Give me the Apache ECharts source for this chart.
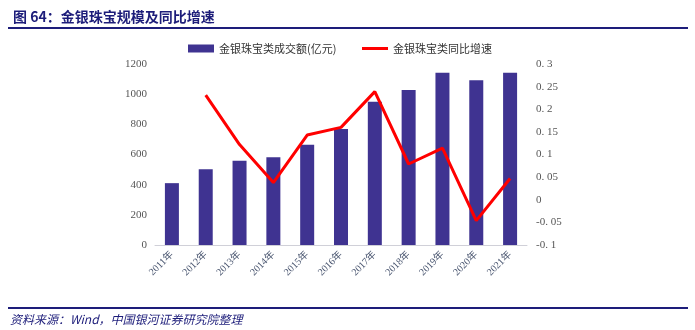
<!DOCTYPE html>
<html>
<head>
<meta charset="utf-8">
<script src="https://cdn.jsdelivr.net/npm/echarts@6/dist/echarts.min.js"></script>
<style>
  html, body { margin: 0; padding: 0; background: #fff; }
  #chart { width: 695px; height: 330px; }
</style>
</head>
<body>
<div id="chart"></div>
<script>
// Jewellery retail sales (100 million yuan) and year-on-year growth
const years = ['2011年', '2012年', '2013年', '2014年', '2015年', '2016年', '2017年', '2018年', '2019年', '2020年', '2021年'];
const salesValues = [410, 502, 559, 581, 665, 769, 950, 1028, 1142, 1092, 1142];
const growthValues = [null, 0.231, 0.122, 0.038, 0.143, 0.160, 0.239, 0.079, 0.114, -0.046, 0.047];
const barName = '金银珠宝类成交额(亿元)';
const lineName = '金银珠宝类同比增速';
const titleText = '图 64：金银珠宝规模及同比增速';
const sourceText = '资料来源：Wind，中国银河证券研究院整理';

const serif = '"Liberation Serif", "Noto Sans CJK SC", serif';
const cjk = '"Noto Sans CJK SC", sans-serif';
const navy = '#1d1d7a';

const chart = echarts.init(document.getElementById('chart'), null, { renderer: 'canvas' });

const legendText = { color: '#333', fontSize: 11, fontFamily: cjk };

chart.setOption({
  animation: false,
  backgroundColor: '#fff',
  title: {
    text: titleText,
    left: 8,
    top: 5,
    textStyle: { color: navy, fontSize: 14, fontWeight: 'bold', fontFamily: cjk }
  },
  graphic: [
    { type: 'rect', left: 8, top: 27, shape: { width: 680, height: 2 }, style: { fill: navy } },
    { type: 'rect', left: 8, top: 307, shape: { width: 680, height: 2 }, style: { fill: navy } },
    {
      type: 'text', left: 10, top: 313,
      style: { text: sourceText, fill: navy, font: 'italic 12px ' + cjk }
    }
  ],
  legend: [
    {
      top: 38, left: 183,
      itemWidth: 26, itemHeight: 8,
      textStyle: legendText,
      data: [{ name: barName, icon: 'rect' }]
    },
    {
      top: 38, left: 357,
      itemWidth: 26, itemHeight: 3,
      textStyle: legendText,
      data: [{ name: lineName, icon: 'rect' }]
    }
  ],
  grid: { left: 155, right: 168, top: 64, bottom: 85, containLabel: false },
  xAxis: {
    type: 'category',
    data: years,
    axisLine: { lineStyle: { color: '#d0d0d8', width: 1 } },
    axisTick: { show: false },
    axisLabel: {
      rotate: 45,
      interval: 0,
      color: '#4a5670',
      fontSize: 10,
      fontFamily: serif,
      margin: 8
    }
  },
  yAxis: [
    {
      type: 'value',
      min: 0, max: 1200, interval: 200,
      splitLine: { show: false },
      axisLine: { show: false },
      axisTick: { show: false },
      axisLabel: {
        color: '#555', fontSize: 11, fontFamily: serif, margin: 8,
        formatter: function (v) { return String(v); }
      }
    },
    {
      type: 'value',
      min: -0.1, max: 0.3, interval: 0.05,
      splitLine: { show: false },
      axisLine: { show: false },
      axisTick: { show: false },
      axisLabel: {
        color: '#555', fontSize: 11, fontFamily: serif, margin: 9,
        formatter: function (v) {
          const r = Math.round(v * 100) / 100;
          if (r === 0) return '0';
          return String(r).replace('.', '. ');
        }
      }
    }
  ],
  series: [
    {
      name: barName,
      type: 'bar',
      yAxisIndex: 0,
      data: salesValues,
      barWidth: 14,
      itemStyle: { color: '#3f3391' }
    },
    {
      name: lineName,
      type: 'line',
      yAxisIndex: 1,
      data: growthValues,
      symbol: 'none',
      lineStyle: { color: '#ff0000', width: 3 },
      itemStyle: { color: '#ff0000' }
    }
  ]
});
</script>
</body>
</html>
